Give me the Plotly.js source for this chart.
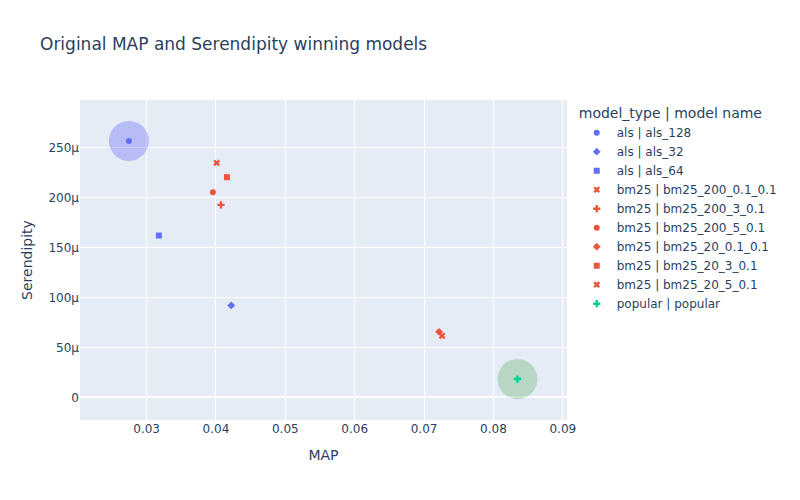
<!DOCTYPE html>
<html>
<head>
<meta charset="utf-8">
<script src="https://cdn.plot.ly/plotly-3.0.1.min.js"></script>
<style>html,body{margin:0;padding:0;}#chart{width:800px;height:500px;}</style>
</head>
<body>
<div id="chart"></div>
<script>
const modelTypes = ["als","als","als","bm25","bm25","bm25","bm25","bm25","bm25","popular"];
const modelNames = ["als_128","als_32","als_64","bm25_200_0.1_0.1","bm25_200_3_0.1","bm25_200_5_0.1","bm25_20_0.1_0.1","bm25_20_3_0.1","bm25_20_5_0.1","popular"];
const mapValues = [0.02745,0.0422,0.03177,0.0401,0.04072,0.03956,0.07216,0.04158,0.0726,0.08346];
const serendipityValues = [256.7e-6,92e-6,162e-6,234.7e-6,192.7e-6,205.4e-6,65.6e-6,220.4e-6,61.6e-6,18.3e-6];
const symbols = ["circle","diamond","square","x","cross","circle","diamond","square","x","cross"];
const typeColors = {als:"#636efa", bm25:"#EF553B", popular:"#00cc96"};
const winners = ["als_128","popular"];
const winnerColors = ["blue","green"];

const traces = [];
winners.forEach((w,k)=>{
  const i = modelNames.indexOf(w);
  traces.push({type:"scatter",mode:"markers",x:[mapValues[i]],y:[serendipityValues[i]],
    marker:{size:40,color:winnerColors[k],opacity:0.2},showlegend:false,hoverinfo:"skip"});
});
modelNames.forEach((n,i)=>{
  traces.push({type:"scatter",mode:"markers",name:modelTypes[i]+" | "+n,
    x:[mapValues[i]],y:[serendipityValues[i]],
    marker:{symbol:symbols[i],color:typeColors[modelTypes[i]],size:6}});
});
const layout = {
  width:800,height:500,
  margin:{l:80,r:233,t:100,b:80},
  plot_bgcolor:"#E5ECF6",paper_bgcolor:"white",
  font:{color:"#2a3f5f",family:"Verdana, 'DejaVu Sans', sans-serif"},
  title:{text:"Original MAP and Serendipity winning models",x:0.05,xanchor:"left"},
  xaxis:{title:{text:"MAP",standoff:15},range:[0.0204,0.0906],gridcolor:"white",zerolinecolor:"white",showline:false,dtick:0.01,tick0:0,ticks:""},
  yaxis:{title:{text:"Serendipity",standoff:12},range:[-22.7e-6,297.7e-6],gridcolor:"white",zerolinecolor:"white",zerolinewidth:2,dtick:50e-6,tick0:0,ticks:""},
  legend:{title:{text:"model_type | model name"},tracegroupgap:0}
};
Plotly.newPlot("chart",traces,layout,{displayModeBar:false});
</script>
</body>
</html>
